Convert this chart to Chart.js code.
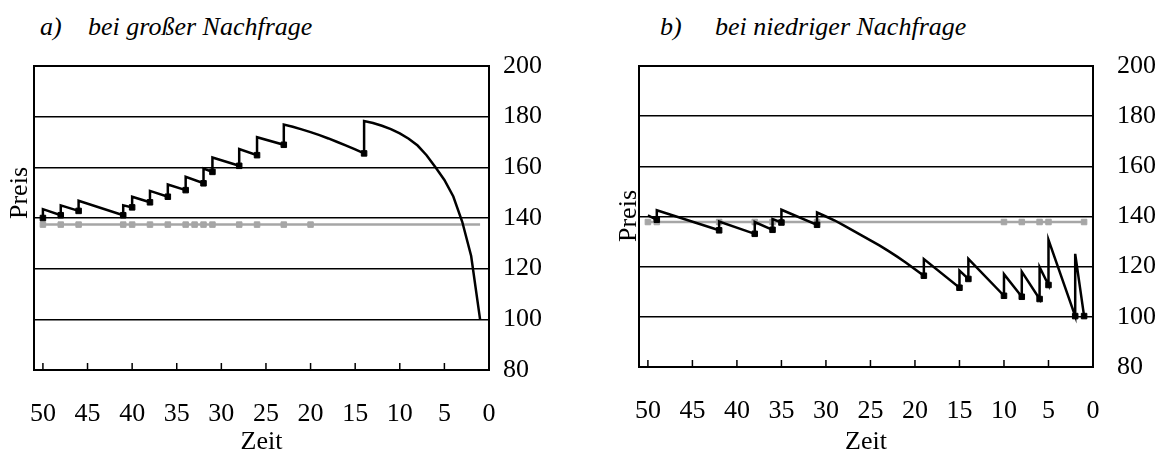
<!DOCTYPE html>
<html>
<head>
<meta charset="utf-8">
<script src="https://cdn.jsdelivr.net/npm/chart.js@4/dist/chart.umd.min.js"></script>
<style>
body { margin: 0; background: #fff; width: 1162px; height: 453px; overflow: hidden; position: relative;
    font-family: "Liberation Serif", "Times New Roman", Tinos, "DejaVu Serif", serif; }
.titel { position: absolute; top: 14px; font-style: italic; font-size: 26px; line-height: 26px; color: #000; white-space: nowrap; }
.achse { position: absolute; font-size: 26px; line-height: 26px; color: #000; white-space: nowrap;
    transform: translate(-50%, -50%) rotate(-90deg); z-index: 2; }
canvas { position: absolute; top: 0; }
</style>
</head>
<body>
<div class="titel" style="left:40px">a)</div>
<div class="titel" style="left:88px">bei großer Nachfrage</div>
<div class="titel" style="left:660px">b)</div>
<div class="titel" style="left:715px">bei niedriger Nachfrage</div>
<canvas id="chart_a" width="560" height="453" style="left:0"></canvas>
<canvas id="chart_b" width="581" height="453" style="left:581px"></canvas>
<div class="achse" style="left:19px; top:193px">Preis</div>
<div class="achse" style="left:628px; top:216px">Preis</div>
<script>
// a) bei großer Nachfrage: Preisverlauf (Zeit rückwärts bis 0)
const a_zeit = [50, 50, 48, 48, 46, 46, 41, 41, 40, 40, 38, 38, 36, 36, 34, 34, 32, 32, 31, 31,
    28, 28, 26, 26, 23, 23, 22, 21, 20, 19, 18, 17, 16, 15, 14, 14,
    13, 12, 11, 10, 9, 8, 7, 6, 5, 4, 3, 2, 1];
const a_preis = [140.0, 143.5, 141.1, 145.0, 142.8, 146.8, 141.1, 145.0, 144.2, 148.4, 146.2, 150.7,
    148.4, 153.2, 151.0, 156.3, 153.7, 159.5, 158.2, 163.9,
    160.6, 167.2, 164.8, 171.9, 168.9, 176.9, 176.0, 175.0, 173.9, 172.7, 171.4, 170.0, 168.6, 167.1, 165.5, 178.3,
    177.5, 176.4, 175.1, 173.4, 171.3, 168.6, 164.8, 160.0, 155.0, 148.5, 138.5, 125.0, 100.0];
// 1 = Verkauf (Marker)
const a_verkauf = [1, 0, 1, 0, 1, 0, 1, 0, 1, 0, 1, 0, 1, 0, 1, 0, 1, 0, 1, 0,
    1, 0, 1, 0, 1, 0, 0, 0, 0, 0, 0, 0, 0, 0, 1, 0,
    0, 0, 0, 0, 0, 0, 0, 0, 0, 0, 0, 0, 0];
const a_ref_zeit = [50, 48, 46, 41, 40, 38, 36, 34, 33, 32, 31, 28, 26, 23, 20, 1];
const a_ref_preis = [137.4, 137.4, 137.4, 137.4, 137.4, 137.4, 137.4, 137.4, 137.4, 137.4, 137.4, 137.4, 137.4, 137.4, 137.4, 137.4];
const a_ref_mark = [1, 1, 1, 1, 1, 1, 1, 1, 1, 1, 1, 1, 1, 1, 1, 0];

// b) bei niedriger Nachfrage
const b_zeit = [50, 49, 49, 42, 42, 38, 38, 36, 36, 35, 35, 31, 31,
    30, 29, 28, 27, 26, 25, 24, 23, 22, 21, 20, 19, 19,
    15, 15, 14, 14, 10, 10, 8, 8, 6, 6, 5, 5, 2, 2, 1];
const b_preis = [140.4, 138.7, 142.5, 134.5, 138.0, 133.1, 137.8, 134.7, 139.0, 137.6, 142.7, 136.7, 141.6,
    140.0, 138.4, 136.5, 134.5, 132.5, 130.5, 128.5, 126.3, 124.0, 121.6, 119.0, 116.4, 123.0,
    111.6, 118.4, 115.1, 123.1, 108.4, 117.0, 108.0, 118.0, 107.1, 119.8, 112.7, 130.7, 100.3, 125.1, 100.3];
const b_verkauf = [0, 1, 0, 1, 0, 1, 0, 1, 0, 1, 0, 1, 0,
    0, 0, 0, 0, 0, 0, 0, 0, 0, 0, 0, 1, 0,
    1, 0, 1, 0, 1, 0, 1, 0, 1, 0, 1, 0, 1, 0, 1];
const b_ref_zeit = [50, 49, 42, 38, 36, 31, 10, 8, 6, 5, 1];
const b_ref_preis = [137.8, 137.8, 137.8, 137.8, 137.8, 137.8, 137.8, 137.8, 137.8, 137.8, 137.8];
const b_ref_mark = [1, 1, 1, 1, 1, 1, 1, 1, 1, 1, 1];

const preis_ticks = [80, 100, 120, 140, 160, 180, 200];

Chart.defaults.font.family = "'Liberation Serif', 'Times New Roman', Tinos, 'DejaVu Serif', serif";
Chart.defaults.font.size = 26;
Chart.defaults.color = '#000';

function to_points(xs, ys){
    const pts = [];
    for (let i = 0; i < xs.length; i++){
        pts.push({x: xs[i], y: ys[i]});
    }
    return pts;
}

// Rahmen um den Plotbereich und kurze Teilstriche nach innen
const rahmen = {
    id: 'rahmen',
    beforeDatasetsDraw(chart){
        const ctx = chart.ctx;
        const ca = chart.chartArea;
        const xs = chart.scales.x;
        ctx.save();
        ctx.strokeStyle = '#000';
        ctx.lineWidth = 2;
        ctx.strokeRect(ca.left, ca.top, ca.right - ca.left, ca.bottom - ca.top);
        ctx.lineWidth = 1.5;
        xs.ticks.forEach(t => {
            if (t.value === 0) return;
            const px = xs.getPixelForValue(t.value);
            ctx.beginPath();
            ctx.moveTo(px, ca.bottom);
            ctx.lineTo(px, ca.bottom - 7);
            ctx.stroke();
        });
        ctx.restore();
    }
};

function make_chart(canvas_id, zeit, preis, verkauf, ref_zeit, ref_preis, ref_mark, dims){
    const ctx = document.getElementById(canvas_id).getContext('2d');
    return new Chart(ctx, {
        type: 'line',
        data: {
            datasets: [
                {
                    label: 'Preis',
                    data: to_points(zeit, preis),
                    borderColor: '#000',
                    backgroundColor: '#000',
                    borderWidth: 2.5,
                    tension: 0,
                    pointStyle: 'rect',
                    pointRadius: c => verkauf[c.dataIndex] ? 3.9 : 0,
                    pointBorderWidth: 1,
                    pointBorderColor: '#000',
                    pointBackgroundColor: '#000'
                },
                {
                    label: 'Referenz',
                    data: to_points(ref_zeit, ref_preis),
                    borderColor: '#a6a6a6',
                    backgroundColor: '#a6a6a6',
                    borderWidth: 2.5,
                    tension: 0,
                    pointStyle: 'rect',
                    pointRadius: c => ref_mark[c.dataIndex] ? 3.9 : 0,
                    pointBorderWidth: 1,
                    pointBorderColor: '#a6a6a6',
                    pointBackgroundColor: '#a6a6a6'
                }
            ]
        },
        options: {
            responsive: false,
            animation: false,
            events: [],
            layout: { padding: { top: 66, left: dims.left_w, right: 0, bottom: 0 } },
            plugins: { legend: { display: false }, tooltip: { enabled: false } },
            scales: {
                y: {
                    type: 'linear',
                    position: 'right',
                    min: 80,
                    max: 200,
                    afterBuildTicks: s => { s.ticks = preis_ticks.map(v => ({value: v})); },
                    grid: { color: '#000', lineWidth: 1.6, drawTicks: false },
                    border: { display: false },
                    ticks: { padding: dims.label_pad, color: '#000' },
                    afterFit: s => { s.width = dims.right_w; }
                },
                x: {
                    type: 'linear',
                    min: 0,
                    max: 51,
                    reverse: true,
                    grid: { display: false, drawTicks: false },
                    border: { display: false },
                    ticks: { stepSize: 5, includeBounds: false, padding: 29, maxRotation: 0, autoSkip: false, color: '#000' },
                    title: {
                        display: true,
                        text: 'Zeit',
                        font: { size: 26, lineHeight: 0.8 },
                        padding: { top: 0, bottom: 0 }
                    },
                    afterFit: s => { s.height = dims.bottom_h; }
                }
            }
        },
        plugins: [rahmen]
    });
}

make_chart('chart_a', a_zeit, a_preis, a_verkauf, a_ref_zeit, a_ref_preis, a_ref_mark,
    { left_w: 34, right_w: 71, bottom_h: 83, label_pad: 14 });
make_chart('chart_b', b_zeit, b_preis, b_verkauf, b_ref_zeit, b_ref_preis, b_ref_mark,
    { left_w: 58, right_w: 69, bottom_h: 86, label_pad: 24 });
</script>
</body>
</html>
